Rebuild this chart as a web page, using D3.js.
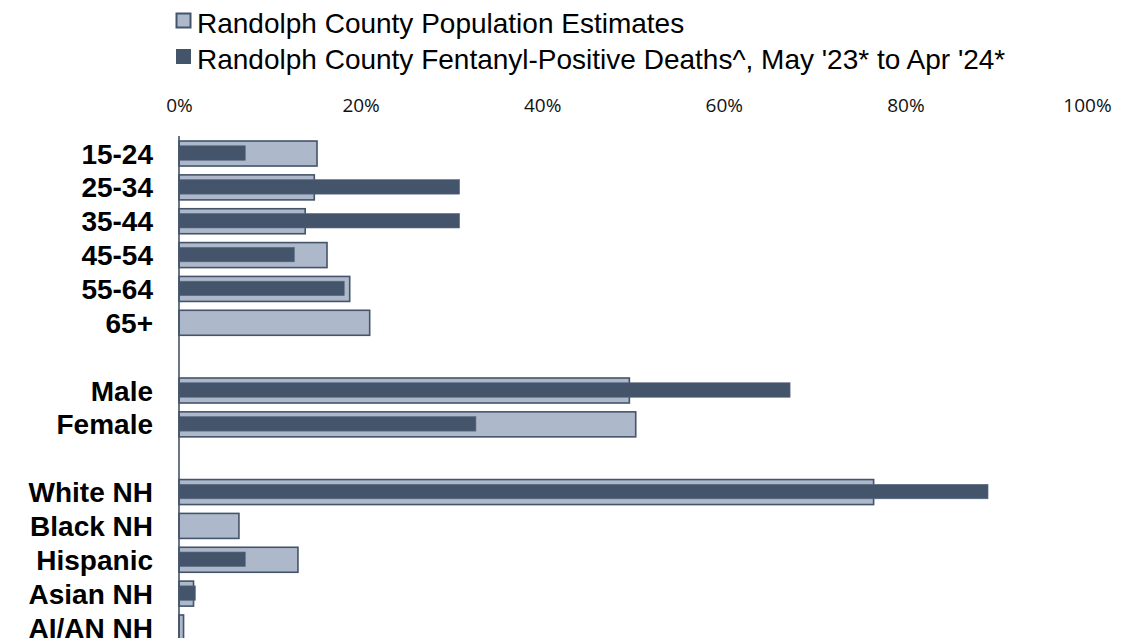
<!DOCTYPE html>
<html>
<head>
<meta charset="utf-8">
<script src="https://cdn.jsdelivr.net/npm/d3@7"></script>
<style>
  body { margin: 0; background: #fff; }
  svg { display: block; }
  .cat-label { font-family: "Liberation Sans", Arial, sans-serif; font-weight: bold; font-size: 28px; fill: #000; }
  .legend-text { font-family: "Liberation Sans", Arial, sans-serif; font-size: 28px; fill: #000; }
  .x-axis text { font-family: "Open Sans", "Noto Sans", sans-serif; font-size: 19px; fill: #111; }
</style>
</head>
<body>
<div id="chart"></div>
<script>
// categories (null = spacer row between groups)
const categories = ["15-24", "25-34", "35-44", "45-54", "55-64", "65+", null, "Male", "Female", null, "White NH", "Black NH", "Hispanic", "Asian NH", "AI/AN NH"];
// Randolph County population estimates (share)
const popValues = [0.152, 0.149, 0.139, 0.163, 0.188, 0.210, null, 0.496, 0.503, null, 0.765, 0.066, 0.131, 0.016, 0.005];
// Fentanyl-positive deaths (share)
const deathValues = [0.073, 0.309, 0.309, 0.127, 0.182, 0, null, 0.673, 0.327, null, 0.891, 0, 0.073, 0.018, 0];
const tickValues = [0, 0.2, 0.4, 0.6, 0.8, 1];
const legendLabels = ["Randolph County Population Estimates", "Randolph County Fentanyl-Positive Deaths^, May '23* to Apr '24*"];

const width = 1136, height = 638;
const DARK = "#44546a", LIGHT = "#adb9ca";

const svg = d3.select("#chart").append("svg").attr("width", width).attr("height", height);

const rows = categories.map((c, i) => ({ key: "r" + i, label: c, pop: popValues[i], death: deathValues[i] }));

const x = d3.scaleLinear().domain([0, 1]).range([179, 1087]);
const y = d3.scaleBand().domain(rows.map(d => d.key)).range([136.6, 644.4]).padding(0);
const bw = y.bandwidth();

// top axis, labels only
const xAxis = svg.append("g").attr("class", "x-axis")
    .attr("transform", "translate(0, 112)")
    .call(d3.axisTop(x).tickValues(tickValues).tickFormat(d3.format(".0%")).tickSize(0).tickPadding(0));
xAxis.select(".domain").remove();

// legend
const legend = svg.append("g");
legendLabels.forEach((t, i) => {
    const ly = 20.5 + i * 36;
    legend.append("rect")
        .attr("x", 176.5).attr("y", ly - 7).attr("width", 14).attr("height", 14)
        .attr("fill", i === 0 ? LIGHT : DARK)
        .attr("stroke", DARK).attr("stroke-width", i === 0 ? 2 : 1);
    legend.append("text").attr("class", "legend-text")
        .attr("x", 197).attr("y", ly + 12.5)
        .text(t);
});

const data = rows.filter(d => d.label !== null);

// population bars (wide, light)
const popH = 25;
svg.append("g").selectAll("rect")
    .data(data).enter().append("rect")
    .attr("x", x(0))
    .attr("y", d => y(d.key) + bw / 2 - popH / 2)
    .attr("width", d => x(d.pop) - x(0))
    .attr("height", popH)
    .attr("fill", LIGHT)
    .attr("stroke", DARK)
    .attr("stroke-width", 1.6);

// deaths bars (narrow, dark)
const deathH = 14.5;
svg.append("g").selectAll("rect")
    .data(data.filter(d => d.death > 0)).enter().append("rect")
    .attr("x", x(0))
    .attr("y", d => y(d.key) + bw / 2 - deathH / 2 - 0.5)
    .attr("width", d => x(d.death) - x(0))
    .attr("height", deathH)
    .attr("fill", DARK)
    .attr("stroke", "#5b6a80")
    .attr("stroke-width", 0.6);

// vertical axis line
svg.append("line")
    .attr("x1", x(0)).attr("x2", x(0))
    .attr("y1", 136).attr("y2", height)
    .attr("stroke", DARK).attr("stroke-width", 1.6);

// category labels
svg.append("g").selectAll("text")
    .data(data).enter().append("text")
    .attr("class", "cat-label")
    .attr("x", 153)
    .attr("y", d => y(d.key) + bw / 2)
    .attr("dy", "0.36em")
    .attr("text-anchor", "end")
    .text(d => d.label);
</script>
</body>
</html>
